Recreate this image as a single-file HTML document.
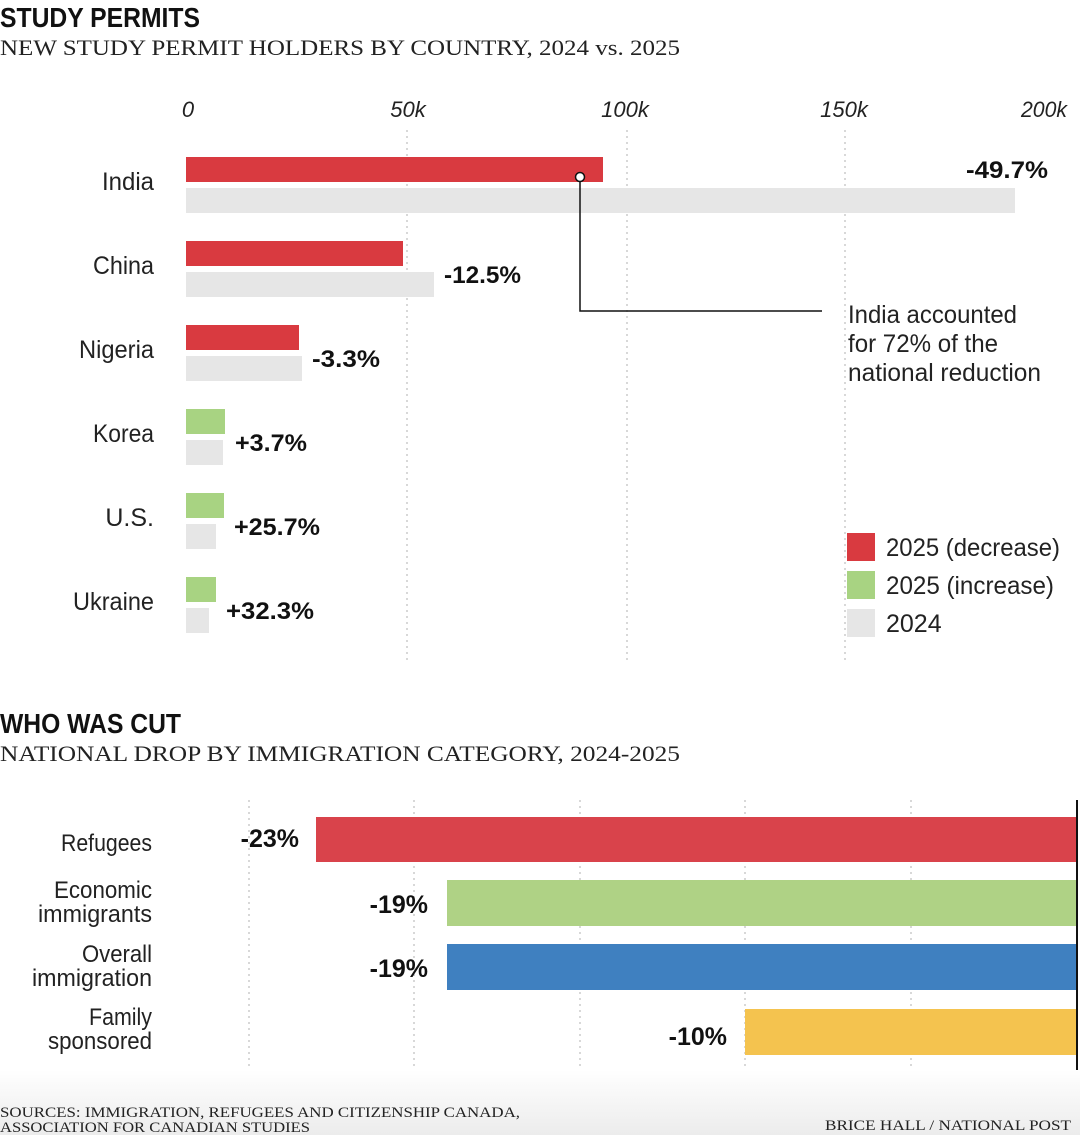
<!DOCTYPE html>
<html><head><meta charset="utf-8"><style>
html,body{margin:0;padding:0;background:#fff;width:1080px;height:1135px;overflow:hidden}
svg{display:block}
.h{font-family:"Liberation Sans Narrow","Liberation Sans",sans-serif;font-weight:bold;fill:#111}
.s{font-family:"Liberation Serif",serif;fill:#222}
.l{font-family:"Liberation Sans Narrow","Liberation Sans",sans-serif;fill:#222}
.v{font-family:"Liberation Sans Narrow","Liberation Sans",sans-serif;font-weight:bold;fill:#111}
</style></head><body>
<svg width="1080" height="1135" viewBox="0 0 1080 1135" xmlns="http://www.w3.org/2000/svg">
<defs><linearGradient id="g" x1="0" y1="0" x2="0" y2="1"><stop offset="0" stop-color="#fff"/><stop offset="1" stop-color="#ececec"/></linearGradient></defs>
<rect x="0" y="1070" width="1080" height="65" fill="url(#g)"/>
<text class="h" x="0" y="27" font-size="28" textLength="200" lengthAdjust="spacingAndGlyphs">STUDY PERMITS</text>
<text class="s" x="0" y="55" font-size="22" textLength="680" lengthAdjust="spacingAndGlyphs">NEW STUDY PERMIT HOLDERS BY COUNTRY, 2024 vs. 2025</text>
<g class="l" font-size="22" font-style="italic" text-anchor="middle">
<text x="188" y="117">0</text><text x="408" y="117">50k</text><text x="625" y="117">100k</text><text x="844" y="117">150k</text><text x="1044" y="117" textLength="46" lengthAdjust="spacingAndGlyphs">200k</text></g>
<g stroke="#ccc" stroke-width="1.5" stroke-dasharray="2,4">
<line x1="407" y1="130" x2="407" y2="660"/><line x1="627" y1="130" x2="627" y2="660"/><line x1="845" y1="130" x2="845" y2="660"/>
<line x1="249" y1="800" x2="249" y2="1070"/><line x1="414" y1="800" x2="414" y2="1070"/><line x1="580" y1="800" x2="580" y2="1070"/><line x1="745" y1="800" x2="745" y2="1070"/><line x1="911" y1="800" x2="911" y2="1070"/></g>
<g>
<rect x="186" y="157" width="417" height="25" fill="#d93a40"/><rect x="186" y="188" width="829" height="25" fill="#e6e6e6"/>
<rect x="186" y="241" width="217" height="25" fill="#d93a40"/><rect x="186" y="272" width="248" height="25" fill="#e6e6e6"/>
<rect x="186" y="325" width="113" height="25" fill="#d93a40"/><rect x="186" y="356" width="116" height="25" fill="#e6e6e6"/>
<rect x="186" y="409" width="39" height="25" fill="#a8d382"/><rect x="186" y="440" width="37" height="25" fill="#e6e6e6"/>
<rect x="186" y="493" width="38" height="25" fill="#a8d382"/><rect x="186" y="524" width="30" height="25" fill="#e6e6e6"/>
<rect x="186" y="577" width="30" height="25" fill="#a8d382"/><rect x="186" y="608" width="23" height="25" fill="#e6e6e6"/>
</g>
<g class="l" font-size="25" text-anchor="end">
<text x="154" y="190" textLength="52" lengthAdjust="spacingAndGlyphs">India</text><text x="154" y="274" textLength="61" lengthAdjust="spacingAndGlyphs">China</text><text x="154" y="358" textLength="75" lengthAdjust="spacingAndGlyphs">Nigeria</text><text x="154" y="442" textLength="61" lengthAdjust="spacingAndGlyphs">Korea</text><text x="154" y="526">U.S.</text><text x="154" y="610" textLength="81" lengthAdjust="spacingAndGlyphs">Ukraine</text></g>
<g class="v" font-size="24">
<text x="1048" y="178" text-anchor="end" textLength="82" lengthAdjust="spacingAndGlyphs">-49.7%</text><text x="444" y="283" textLength="77" lengthAdjust="spacingAndGlyphs">-12.5%</text><text x="312" y="367" textLength="68" lengthAdjust="spacingAndGlyphs">-3.3%</text><text x="235" y="451" textLength="72" lengthAdjust="spacingAndGlyphs">+3.7%</text><text x="234" y="535" textLength="86" lengthAdjust="spacingAndGlyphs">+25.7%</text><text x="226" y="619" textLength="88" lengthAdjust="spacingAndGlyphs">+32.3%</text></g>
<path d="M580 182 V311 H822" fill="none" stroke="#111" stroke-width="1.5"/>
<circle cx="580" cy="177" r="4.5" fill="#fff" stroke="#111" stroke-width="1.5"/>
<g class="l" font-size="25"><text x="848" y="323" textLength="169" lengthAdjust="spacingAndGlyphs">India accounted</text><text x="848" y="352" textLength="150" lengthAdjust="spacingAndGlyphs">for 72% of the</text><text x="848" y="381" textLength="193" lengthAdjust="spacingAndGlyphs">national reduction</text></g>
<rect x="847" y="533" width="28" height="28" fill="#d93a40"/><rect x="847" y="571" width="28" height="28" fill="#a8d382"/><rect x="847" y="609" width="28" height="28" fill="#e6e6e6"/>
<g class="l" font-size="25"><text x="886" y="556" textLength="174" lengthAdjust="spacingAndGlyphs">2025 (decrease)</text><text x="886" y="594" textLength="168" lengthAdjust="spacingAndGlyphs">2025 (increase)</text><text x="886" y="632">2024</text></g>
<text class="h" x="0" y="733" font-size="28" textLength="181" lengthAdjust="spacingAndGlyphs">WHO WAS CUT</text>
<text class="s" x="0" y="761" font-size="22" textLength="680" lengthAdjust="spacingAndGlyphs">NATIONAL DROP BY IMMIGRATION CATEGORY, 2024-2025</text>
<rect x="316" y="817" width="762" height="45" fill="#d9434b"/>
<rect x="447" y="880" width="631" height="46" fill="#afd285"/>
<rect x="447" y="944" width="631" height="46" fill="#3f80c0"/>
<rect x="745" y="1009" width="333" height="46" fill="#f4c34f"/>
<line x1="1077" y1="800" x2="1077" y2="1070" stroke="#111" stroke-width="2"/>
<g class="l" font-size="24" text-anchor="end">
<text x="152" y="851" textLength="91" lengthAdjust="spacingAndGlyphs">Refugees</text>
<text x="152" y="898" textLength="98" lengthAdjust="spacingAndGlyphs">Economic</text><text x="152" y="922" textLength="114" lengthAdjust="spacingAndGlyphs">immigrants</text>
<text x="152" y="962" textLength="70" lengthAdjust="spacingAndGlyphs">Overall</text><text x="152" y="986" textLength="120" lengthAdjust="spacingAndGlyphs">immigration</text>
<text x="152" y="1025" textLength="63" lengthAdjust="spacingAndGlyphs">Family</text><text x="152" y="1049" textLength="104" lengthAdjust="spacingAndGlyphs">sponsored</text></g>
<g class="v" font-size="25" text-anchor="end">
<text x="299" y="847">-23%</text><text x="428" y="913">-19%</text><text x="428" y="977">-19%</text><text x="727" y="1045">-10%</text></g>
<g class="s" font-size="15"><text x="0" y="1117" textLength="520" lengthAdjust="spacingAndGlyphs">SOURCES: IMMIGRATION, REFUGEES AND CITIZENSHIP CANADA,</text>
<text x="0" y="1132" textLength="310" lengthAdjust="spacingAndGlyphs">ASSOCIATION FOR CANADIAN STUDIES</text>
<text x="825" y="1130" textLength="246" lengthAdjust="spacingAndGlyphs">BRICE HALL  / NATIONAL POST</text></g>
</svg>
</body></html>
